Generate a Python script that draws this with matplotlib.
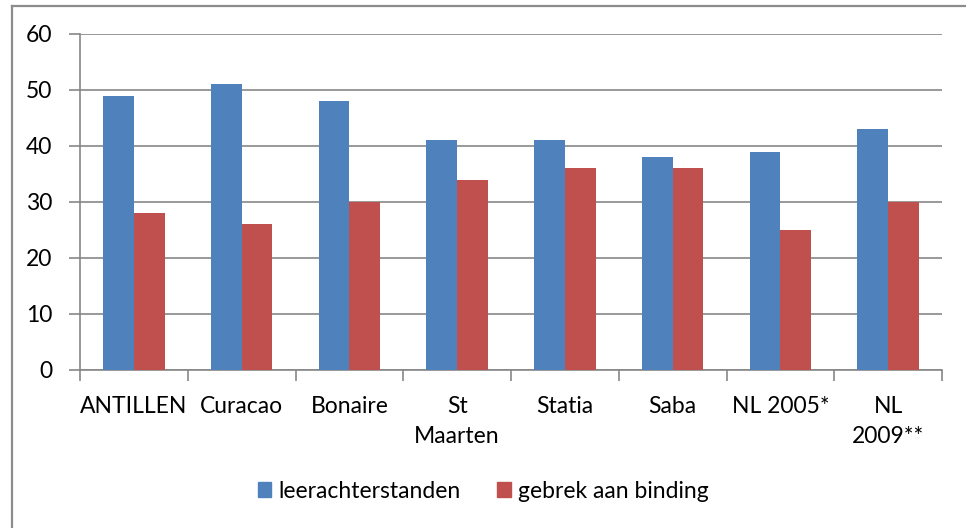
import matplotlib
matplotlib.use("Agg")
import matplotlib.pyplot as plt
from matplotlib.lines import Line2D
from matplotlib.patches import Patch
import numpy as np

categories = ["ANTILLEN", "Curacao", "Bonaire", "St\nMaarten", "Statia", "Saba", "NL 2005*", "NL\n2009**"]
leerachterstanden = [49, 51, 48, 41, 41, 38, 39, 43]
gebrek_aan_binding = [28, 26, 30, 34, 36, 36, 25, 30]
series_names = ["leerachterstanden", "gebrek aan binding"]
yticks = [0, 10, 20, 30, 40, 50, 60]

plt.rcParams['font.family'] = ['Lato', 'DejaVu Sans']
FS = 16.5

W, H = 966, 528
fig = plt.figure(figsize=(W / 100, H / 100), dpi=100)
fig.patch.set_facecolor("white")

# outer chart border (left and top visible)
fig.add_artist(Line2D([11.5 / W, 11.5 / W], [0, 1 - 5.5 / H], color="#8c8c8c", lw=1.6))
fig.add_artist(Line2D([11.5 / W, 1], [1 - 5.5 / H, 1 - 5.5 / H], color="#8c8c8c", lw=1.6))

ax = fig.add_axes([80 / W, (H - 370) / H, 862 / W, 336 / H])
n = len(categories)
x = np.arange(n)
gw = 1 / 1.75
bw = gw / 2
blue = "#4F81BD"
red = "#C0504D"
ax.bar(x - bw / 2, leerachterstanden, bw, color=blue, zorder=3)
ax.bar(x + bw / 2, gebrek_aan_binding, bw, color=red, zorder=3)

ax.set_xlim(-0.5, n - 0.5)
ax.set_ylim(0, 60)
ax.set_yticks(yticks)
ax.set_yticklabels([str(v) for v in yticks], fontsize=FS)
ax.yaxis.grid(True, color="#878787", lw=1.2, zorder=0)
ax.set_xticks(np.arange(n + 1) - 0.5, minor=False)
ax.set_xticklabels([""] * (n + 1))
ax.set_xticks(x, minor=True)
ax.set_xticklabels(categories, minor=True, fontsize=FS, linespacing=1.5)
ax.tick_params(axis="x", which="minor", length=0, pad=19)
ax.tick_params(axis="x", which="major", length=8, color="#878787", width=1.2)
ax.tick_params(axis="y", length=8, color="#878787", width=1.2, pad=12)
for s in ["top", "right"]:
    ax.spines[s].set_visible(False)
for s in ["left", "bottom"]:
    ax.spines[s].set_color("#878787")
    ax.spines[s].set_linewidth(1.2)

handles = [Patch(color=blue), Patch(color=red)]
fig.legend(handles, series_names, loc="center", bbox_to_anchor=(483 / W, 1 - 491 / H),
           ncol=2, frameon=False, fontsize=FS, handlelength=0.6, handleheight=0.6,
           handletextpad=0.3, columnspacing=1.6)

fig.savefig("out.png", dpi=100)
